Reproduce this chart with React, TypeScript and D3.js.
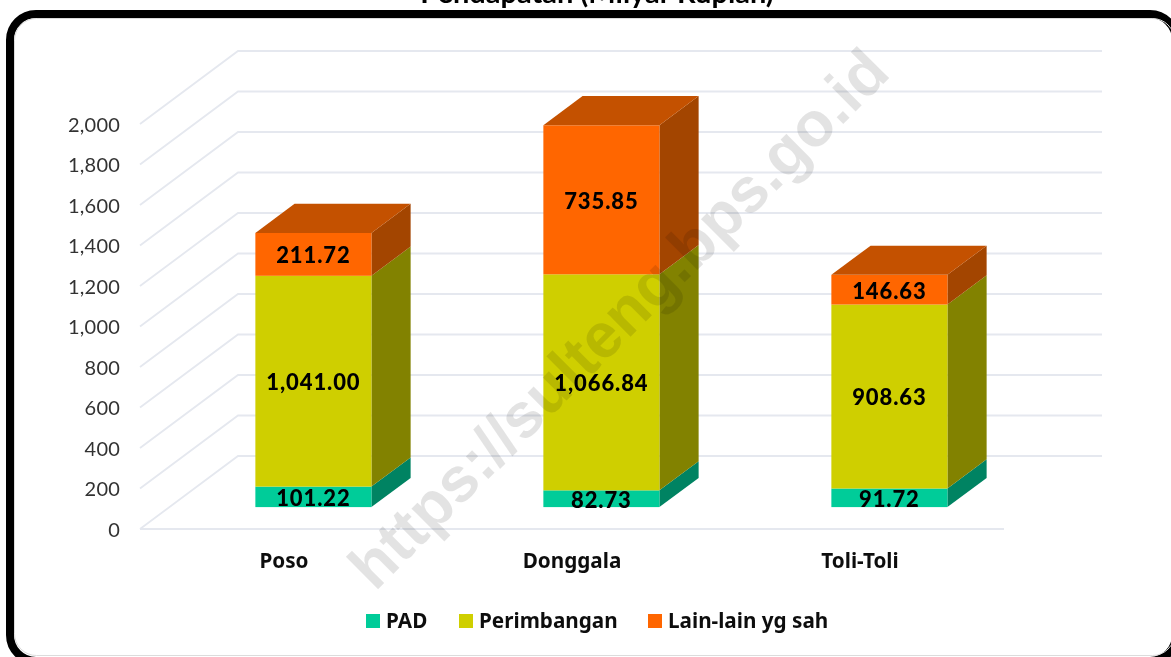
import React from "react";
import * as d3 from "d3";

const categories = ["Poso", "Donggala", "Toli-Toli"];
const seriesNames = ["PAD", "Perimbangan", "Lain-lain yg sah"];
const pad = [101.22, 82.73, 91.72];
const perimbangan = [1041.0, 1066.84, 908.63];
const lainLain = [211.72, 735.85, 146.63];
const yTicks = [0, 200, 400, 600, 800, 1000, 1200, 1400, 1600, 1800, 2000];
const frontColors = ["#00cc99", "#cfcf00", "#ff6600"];
const sideColors = ["#008362", "#828200", "#a34400"];
const topColors = ["#008f6b", "#8f8f00", "#c45100"];
const legendX = [366, 459, 648];
const title = "Pendapatan (Milyar Rupiah)";
const watermark = "https://sulteng.bps.go.id";

const W = 1171;
const H = 657;
const FLOOR_L = 140;
const FLOOR_R = 1004;
const FLOOR_Y = 529;
const DEPTH_X = 98;
const DEPTH_Y = 73;
const Z0 = 0.3;
const Z1 = 0.7;

const y = d3.scaleLinear().domain([0, 2000]).range([FLOOR_Y, 124]);
const x = d3.scaleBand<string>().domain(categories).range([FLOOR_L, FLOOR_R]).paddingInner(0.597).paddingOuter(0.2985);
const fmt = d3.format(",.2f");
const fmtTick = d3.format(",");
const FONT = "Lato, 'Open Sans', sans-serif";
const BOLD_FONT = "'Noto Sans', 'Open Sans', sans-serif";

function poly(points: [number, number][]) {
  return points.map((p) => p.join(",")).join(" ");
}

export default function App() {
  const matrix = categories.map((_, i) => ({ a: pad[i], b: perimbangan[i], c: lainLain[i] }));
  const stack = d3.stack<any>().keys(["a", "b", "c"])(matrix);
  return (
    <svg width={W} height={H} viewBox={`0 0 ${W} ${H}`} style={{ position: "absolute", left: 0, top: 0, background: "#fff" }}>
      <defs>
        <filter id="soft" x="-5%" y="-5%" width="110%" height="110%">
          <feGaussianBlur stdDeviation="0.4" />
        </filter>
      </defs>
      <g filter="url(#soft)">
        <text x={597} y={3} textAnchor="middle" fontFamily={FONT} fontWeight={700} fontSize={29} fill="#000">{title}</text>
        <rect x={10} y={14} width={1166} height={647} rx={26} fill="#fff" stroke="#000" strokeWidth={8} />
        <rect x={14.5} y={18.5} width={1160} height={637} rx={22} fill="none" stroke="#dcdcdc" strokeWidth={1} />
        {yTicks.map((t) => (
          <g key={t}>
            <polyline
              points={poly([
                [FLOOR_L, y(t)],
                [FLOOR_L + DEPTH_X, y(t) - DEPTH_Y],
                [FLOOR_R + DEPTH_X, y(t) - DEPTH_Y],
              ])}
              fill="none"
              stroke="#e5e8ef"
              strokeWidth={1.8}
            />
            <text x={120} y={y(t) + 0.5} dy="0.35em" textAnchor="end" fontFamily={FONT} fontSize={20} letterSpacing={0.2} fill="#333">{fmtTick(t)}</text>
          </g>
        ))}
        <line x1={FLOOR_L} x2={FLOOR_R} y1={FLOOR_Y} y2={FLOOR_Y} stroke="#e5e8ef" strokeWidth={1.8} />
        {categories.map((c, i) => {
          const bx0 = x(c)! + Z0 * DEPTH_X;
          const bx1 = bx0 + x.bandwidth();
          const dx = (Z1 - Z0) * DEPTH_X;
          const off = Z0 * DEPTH_Y;
          const dy = (Z1 - Z0) * DEPTH_Y;
          return (
            <g key={c}>
              {stack.map((s, k) => {
                const top = y(s[i][1]) - off;
                const bot = y(s[i][0]) - off;
                return (
                  <g key={k}>
                    <polygon points={poly([[bx1, bot], [bx1 + dx, bot - dy], [bx1 + dx, top - dy], [bx1, top]])} fill={sideColors[k]} />
                    <rect x={bx0} y={top} width={x.bandwidth()} height={bot - top} fill={frontColors[k]} />
                    {k === stack.length - 1 && (
                      <polygon points={poly([[bx0, top], [bx0 + dx, top - dy], [bx1 + dx, top - dy], [bx1, top]])} fill={topColors[k]} />
                    )}
                    <text x={(bx0 + bx1) / 2} y={(top + bot) / 2 + 1} dy="0.36em" textAnchor="middle" fontFamily={FONT} fontWeight={900} fontSize={22} letterSpacing={0.9} fill="#000">
                      {fmt(s[i][1] - s[i][0])}
                    </text>
                  </g>
                );
              })}
              <text x={x(c)! + x.bandwidth() / 2} y={561} dy="0.35em" textAnchor="middle" fontFamily={BOLD_FONT} fontWeight={700} fontSize={20.7} fill="#111">{c}</text>
            </g>
          );
        })}
        {seriesNames.map((n, k) => (
          <g key={n}>
            <rect x={legendX[k]} y={614} width={14} height={14} fill={frontColors[k]} />
            <text x={legendX[k] + 20} y={621} dy="0.35em" fontFamily={BOLD_FONT} fontWeight={700} fontSize={20.7} fill="#111">{n}</text>
          </g>
        ))}
        <text
          transform="translate(618,318) rotate(-45)"
          textAnchor="middle"
          dy="0.35em"
          fontFamily="'Liberation Sans', Arial, sans-serif"
          fontWeight={700}
          fontSize={63}
          fill="#000"
          fillOpacity={0.11}
        >
          {watermark}
        </text>
      </g>
    </svg>
  );
}
